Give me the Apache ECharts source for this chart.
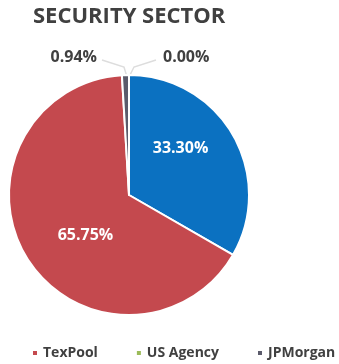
<!DOCTYPE html>
<html>
<head>
<meta charset="utf-8">
<style>
html,body{margin:0;padding:0;background:#fff;}
#c{width:339px;height:364px;}
</style>
<script src="https://cdn.jsdelivr.net/npm/echarts@6/dist/echarts.min.js"></script>
</head>
<body>
<div id="c"></div>
<script>
// Clockwise from 12 o'clock, as drawn in the reference
const categories = ['US Agency', 'US Treasury', 'TexPool', 'JPMorgan'];
const values = [0.00, 33.30, 65.75, 0.94];
const colors = ['#9BBB59', '#0B71C1', '#C4494E', '#5B5B6B'];
const legendItems = ['TexPool', 'US Agency', 'JPMorgan'];
const insideLabels = ['US Treasury', 'TexPool'];
const labelOffsets = {'US Treasury': [-3, -15], 'TexPool': [10, 7]};

const CX = 129, CY = 195, R = 120;
// outside label placement relative to pie centre: [dx, dy, align, side]
const outsidePlacement = {'US Agency': [34, -138, 'left', 1], 'JPMorgan': [-32, -138, 'right', -1]};

const chart = echarts.init(document.getElementById('c'));
const data = categories.map((name, i) => {
  const inside = insideLabels.indexOf(name) >= 0;
  return {
    name: name,
    value: values[i],
    itemStyle: {color: colors[i]},
    label: inside ? {
      position: 'inside', color: '#ffffff', fontSize: 16,
      offset: labelOffsets[name]
    } : {
      position: 'outside', color: '#404040', fontSize: 16
    },
    labelLine: {show: !inside}
  };
});

chart.setOption({
  animation: false,
  title: {
    text: 'SECURITY SECTOR',
    left: 28, top: 1,
    textStyle: {fontFamily: 'Open Sans', fontWeight: 'bold', fontSize: 22, color: '#404040'}
  },
  legend: {
    data: legendItems,
    left: 31, top: 346, width: 330, padding: 0,
    icon: 'rect', itemWidth: 6, itemHeight: 6, itemGap: 37,
    textStyle: {fontFamily: 'Open Sans', fontWeight: 'bold', fontSize: 14, color: '#404040'}
  },
  series: [{
    type: 'pie',
    center: [CX, CY],
    radius: R,
    startAngle: 90,
    clockwise: true,
    data: data,
    itemStyle: {borderColor: '#ffffff', borderWidth: 2},
    label: {
      fontFamily: 'Open Sans', fontWeight: 'bold', overflow: 'none',
      formatter: p => p.value.toFixed(2) + '%'
    },
    labelLine: {length: 12, length2: 14, lineStyle: {color: '#DDDDDD', width: 1.5}},
    labelLayout: function (params) {
      const name = categories[params.dataIndex];
      const pl = outsidePlacement[name];
      if (!pl) return {};
      const s = pl[3];
      return {
        x: CX + pl[0], y: CY + pl[1], align: pl[2], verticalAlign: 'middle',
        labelLinePoints: [
          [CX - 1 + s, CY - R + 2],
          [CX + s * 5, CY - R - 8],
          [CX + s * 27, CY - R - 15]
        ]
      };
    },
    emphasis: {disabled: true}
  }]
});
</script>
</body>
</html>
